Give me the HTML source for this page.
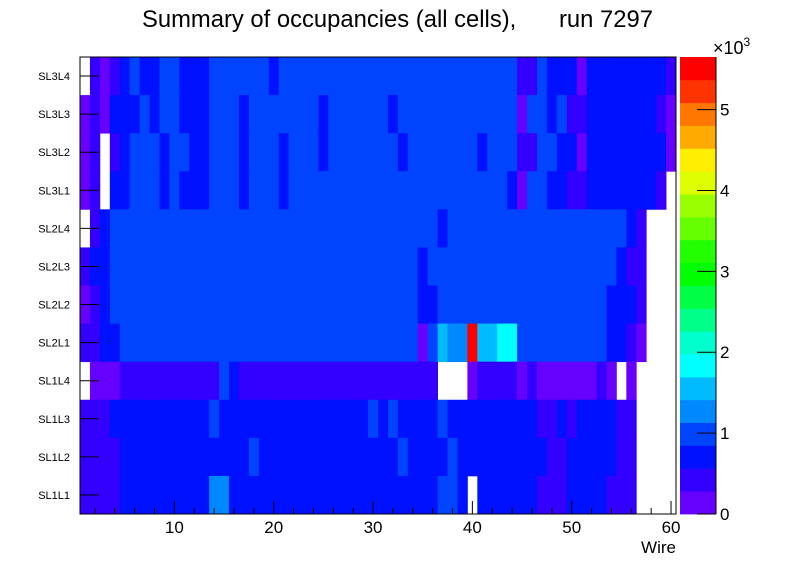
<!DOCTYPE html>
<html><head><meta charset="utf-8"><style>
html,body{margin:0;padding:0;background:#fff;}
svg{display:block;font-family:"Liberation Sans",sans-serif;}
</style></head><body>
<svg id="chart" width="796" height="572" viewBox="0 0 796 572">
<text y="27" font-size="23.8"><tspan x="142">Summary of occupancies (all cells),</tspan><tspan x="559">run 7297</tspan></text>
<g id="cells"></g>
<g id="axes"></g>
<g id="palette"></g>
<text x="676" y="553" font-size="17" text-anchor="end">Wire</text>
</svg>
<script>
const rowLabels=["SL3L4","SL3L3","SL3L2","SL3L1","SL2L4","SL2L3","SL2L2","SL2L1","SL1L4","SL1L3","SL1L2","SL1L1"];
const xTickLabels=[10,20,30,40,50,60];
const zTickLabels=[0,1,2,3,4,5];
const zMax=5650;
const R1=[0,420,140,420,700,980,700,700,980,980,700,700,700,980,980,980,980,980,980,700,980,980,980,980,980,980,980,980,980,980,980,980,980,980,980,980,980,980,980,980,980,980,980,980,420,420,980,700,700,700,140,700,700,700,700,700,700,700,700,420];
const R2=[140,420,140,700,700,700,980,700,980,980,700,700,700,980,980,980,700,980,980,980,980,980,980,980,700,980,980,980,980,980,980,700,980,980,980,980,980,980,980,980,980,980,980,980,140,980,980,700,980,420,420,700,700,700,700,700,700,700,420,140];
const R3=[140,420,0,420,700,980,980,980,700,980,980,700,700,980,980,980,700,980,980,980,700,980,980,980,700,980,980,980,980,980,980,980,700,980,980,980,980,980,980,980,700,980,980,980,420,420,980,980,700,700,140,700,700,700,700,700,700,700,700,140];
const R4=[140,420,0,700,700,980,980,980,700,980,700,700,700,980,980,980,700,980,980,980,700,980,980,980,980,980,980,980,980,980,980,980,980,980,980,980,980,980,980,980,980,980,980,700,140,980,980,700,700,420,420,700,700,700,700,700,700,700,420,0];
const R5=[0,420,700,980,980,980,980,980,980,980,980,980,980,980,980,980,980,980,980,980,980,980,980,980,980,980,980,980,980,980,980,980,980,980,980,980,700,980,980,980,980,980,980,980,980,980,980,980,980,980,980,980,980,980,980,700,420,0,0,0];
const R6=[420,700,700,980,980,980,980,980,980,980,980,980,980,980,980,980,980,980,980,980,980,980,980,980,980,980,980,980,980,980,980,980,980,980,700,980,980,980,980,980,980,980,980,980,980,980,980,980,980,980,980,980,980,980,700,420,420,0,0,0];
const R7=[140,420,700,980,980,980,980,980,980,980,980,980,980,980,980,980,980,980,980,980,980,980,980,980,980,980,980,980,980,980,980,980,980,980,700,700,980,980,980,980,980,980,980,980,980,980,980,980,980,980,980,980,980,700,700,700,420,0,0,0];
const R8=[420,420,700,700,980,980,980,980,980,980,980,980,980,980,980,980,980,980,980,980,980,980,980,980,980,980,980,980,980,980,980,980,980,980,140,980,1550,1270,1270,5550,1550,1550,1830,1830,980,980,980,980,980,980,980,980,980,700,700,420,140,0,0,0];
const R9=[0,140,140,140,420,420,420,420,420,420,420,420,420,420,980,700,420,420,420,420,420,420,420,420,420,420,420,420,420,420,420,420,420,420,420,420,0,0,0,140,420,420,420,420,140,420,140,140,140,140,140,140,420,140,0,140,0,0,0,0];
const R10=[420,420,420,700,700,700,700,700,700,700,700,700,700,980,700,700,700,700,700,700,700,700,700,700,700,700,700,700,700,980,700,980,700,700,700,700,980,700,700,700,700,700,700,700,700,700,420,420,700,420,700,700,700,700,420,420,0,0,0,0];
const R11=[420,420,420,420,700,700,700,700,700,700,700,700,700,700,700,700,700,980,700,700,700,700,700,700,700,700,700,700,700,700,700,700,980,700,700,700,700,980,700,700,700,700,700,700,700,700,700,420,420,700,700,700,700,700,420,420,0,0,0,0];
const R12=[420,420,420,420,700,700,700,700,700,700,700,700,700,1270,1270,700,700,700,700,700,700,700,700,700,700,700,700,700,700,700,700,700,700,700,700,700,980,980,700,0,700,700,700,700,700,700,420,420,420,700,700,700,700,420,420,420,0,0,0,0];
const rows=[R1,R2,R3,R4,R5,R6,R7,R8,R9,R10,R11,R12];

const palette=["#6600ff","#3300ff","#0011ff","#0044ff","#0088ff","#00bbff","#00ffff","#00ffcc","#00ff88","#00ff44","#00ff00","#22ff00","#66ff00","#99ff00","#ddff00","#ffee00","#ffaa00","#ff7700","#ff3300","#ff0000"];
const NS="http://www.w3.org/2000/svg";
const X0=80,X1=676,Y0=57,Y1=514,nX=60;
const xScale=v=>X0+(v-0.5)/nX*(X1-X0);
const rowH=(Y1-Y0)/rowLabels.length;
const yScale=i=>Y0+i*rowH;
const zScale=v=>Y1-v/zMax*(Y1-Y0);
function mk(tag,attrs,parent){const e=document.createElementNS(NS,tag);for(const k in attrs)e.setAttribute(k,attrs[k]);parent.appendChild(e);return e;}
const cells=document.getElementById('cells');
rows.forEach((row,i)=>{
  row.forEach((v,j)=>{
    if(v<=0)return;
    const b=Math.min(19,Math.floor(v/zMax*20));
    const x=xScale(j+0.5),x2=xScale(j+1.5);
    const r=mk('rect',{x:x.toFixed(2),y:yScale(i).toFixed(2),width:(x2-x+0.4).toFixed(2),height:(rowH+0.4).toFixed(2),fill:palette[b]},cells);
    
    
  });
});
const axes=document.getElementById('axes');
const fr=mk('rect',{x:X0,y:Y0,width:X1-X0,height:Y1-Y0,fill:'none',stroke:'#000','stroke-width':1},axes);


rowLabels.forEach((l,i)=>{
  const yc=yScale(i)+rowH/2;
  const t=mk('line',{x1:X0,x2:99,y1:yc,y2:yc,stroke:'#000','stroke-width':1},axes);
  
  
  const tx=mk('text',{x:70,y:yc+4,'font-size':11,'text-anchor':'end'},axes);
  tx.textContent=l;
  
  
});
for(let v=2;v<=60;v+=2){
  const x=xScale(v);const major=v%10===0;
  const t=mk('line',{x1:x,x2:x,y1:Y1,y2:Y1-(major?13:6),stroke:'#000','stroke-width':1},axes);
  
  
}
xTickLabels.forEach(v=>{
  const tx=mk('text',{x:xScale(v),y:533,'font-size':17,'text-anchor':'middle'},axes);
  tx.textContent=v;
  
  
});
const pal=document.getElementById('palette');
palette.forEach((c,k)=>{
  const ya=zScale((k+1)*zMax/20),yb=zScale(k*zMax/20);
  const r=mk('rect',{x:680,y:ya.toFixed(2),width:36,height:(yb-ya+0.4).toFixed(2),fill:c},pal);
  
  
});
const pl=mk('line',{x1:716,x2:716,y1:Y0,y2:Y1,stroke:'#000','stroke-width':1},pal);


zTickLabels.forEach(v=>{
  const y=zScale(v*1000);
  const t=mk('line',{x1:697,x2:716,y1:y,y2:y,stroke:'#000','stroke-width':1},pal);
  
  
  const tx=mk('text',{x:720,y:y+6,'font-size':17},pal);
  tx.textContent=v;
  
  
});
const ex=mk('text',{x:713,y:54,'font-size':18},pal);
ex.textContent='×10';


const ex2=mk('tspan',{dy:-8,'font-size':12},ex);
ex2.textContent='3';
</script>
</body></html>
